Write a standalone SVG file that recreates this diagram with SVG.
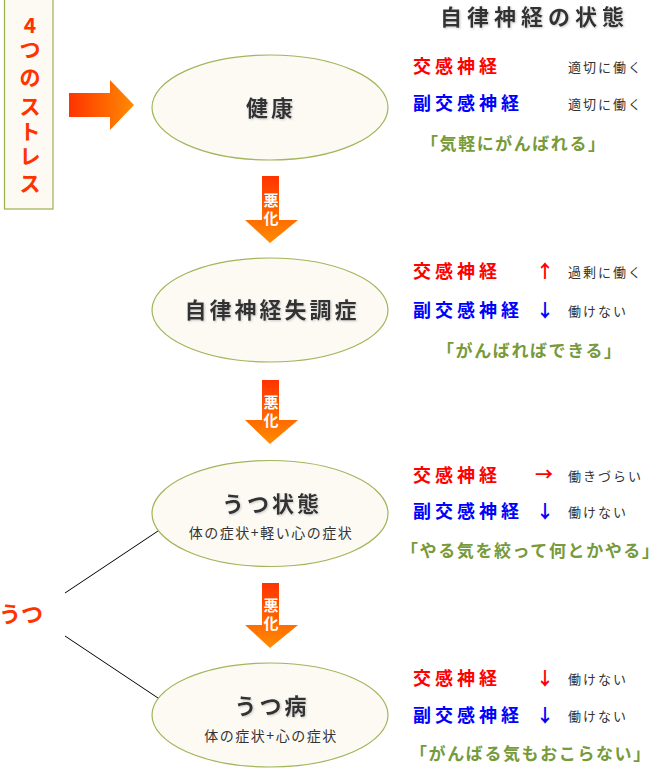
<svg xmlns="http://www.w3.org/2000/svg" width="650" height="770" viewBox="0 0 650 770">
<defs>
<linearGradient id="gh" x1="0" y1="0" x2="1" y2="0"><stop offset="0" stop-color="#ff3300"/><stop offset="1" stop-color="#ff8c00"/></linearGradient>
<linearGradient id="gv" x1="0" y1="0" x2="0" y2="1"><stop offset="0" stop-color="#ff3300"/><stop offset="1" stop-color="#ff8c00"/></linearGradient>
<filter id="sh" x="-20%" y="-30%" width="140%" height="160%"><feDropShadow dx="1" dy="1" stdDeviation="1.2" flood-color="#bbbbbb" flood-opacity="0.8"/></filter>
</defs>
<style>
text{font-family:"Noto Sans CJK JP","Noto Sans",sans-serif}
.node{fill:#fdfaf4;stroke:#a2b55a;stroke-width:1.2}
.ttl{font-size:22px;font-weight:bold;fill:#333333;text-anchor:middle;letter-spacing:3px}
.sub{font-size:14px;fill:#333333;text-anchor:middle;letter-spacing:1.5px}
.sym{font-size:18px;font-weight:bold;fill:#ff0000;letter-spacing:4px}
.para{font-size:18px;font-weight:bold;fill:#0000ff;letter-spacing:4px}
.st{font-size:13px;fill:#333333;letter-spacing:2px}
.q{font-size:17px;font-weight:bold;fill:#779a3a;letter-spacing:1.6px}
.ar{font-size:18px;font-weight:bold}
.worse{font-size:15px;font-weight:bold;fill:#ffffff;text-anchor:middle}
.red{fill:#ff3300;font-weight:bold}
</style>
<g id="stress">
<rect x="4.5" y="-1" width="48.5" height="210" fill="#fdfaf3" stroke="#9bb04c" stroke-width="1.2"/>
<g class="red" font-size="21" text-anchor="middle">
<text x="30" y="33">4</text>
<text x="30" y="57">つ</text>
<text x="30" y="85">の</text>
<text x="30" y="114">ス</text>
<text x="30" y="139">ト</text>
<text x="30" y="164">レ</text>
<text x="30" y="191">ス</text>
</g>
</g>
<g id="connectors">
<polygon points="69,93 110,93 110,80 134,105 110,130 110,117 69,117" fill="url(#gh)"/>
<g id="arrow1"><polygon points="262,176 279,176 279,220 298,220 270,243 245,220 262,220" fill="url(#gv)"/><text class="worse" x="271" y="206">悪</text><text class="worse" x="271" y="224">化</text></g>
<g id="arrow2"><polygon points="262,380 279,380 279,420 298,420 270,444 245,420 262,420" fill="url(#gv)"/><text class="worse" x="271" y="408">悪</text><text class="worse" x="271" y="426">化</text></g>
<g id="arrow3"><polygon points="262,583 279,583 279,625 298,625 270,648 245,625 262,625" fill="url(#gv)"/><text class="worse" x="271" y="611">悪</text><text class="worse" x="271" y="629">化</text></g>
<line x1="65" y1="593" x2="170" y2="523" stroke="#000" stroke-width="1"/>
<line x1="65" y1="636" x2="170" y2="706" stroke="#000" stroke-width="1"/>
</g>
<g id="n1"><ellipse class="node" cx="270" cy="107.5" rx="118" ry="52.5"/><text class="ttl" x="271" y="116" filter="url(#sh)">健康</text></g>
<g id="n2"><ellipse class="node" cx="270" cy="310" rx="118" ry="52"/><text class="ttl" x="272" y="318" filter="url(#sh)">自律神経失調症</text></g>
<g id="n3"><ellipse class="node" cx="270" cy="513.5" rx="118" ry="53"/><text class="ttl" x="272" y="512" filter="url(#sh)">うつ状態</text><text class="sub" x="271" y="538">体の症状+軽い心の症状</text></g>
<g id="n4"><ellipse class="node" cx="270" cy="715" rx="118" ry="52"/><text class="ttl" x="272" y="714" filter="url(#sh)">うつ病</text><text class="sub" x="271" y="741">体の症状+心の症状</text></g>
<g id="utsu"><text class="red" x="-1" y="622" font-size="22">うつ</text></g>
<g id="status">
<text x="440" y="25" font-size="22" font-weight="bold" fill="#333333" letter-spacing="5" filter="url(#sh)">自律神経の状態</text>
<text class="sym" x="413" y="73">交感神経</text><text class="st" x="568" y="72">適切に働く</text>
<text class="para" x="413" y="110">副交感神経</text><text class="st" x="568" y="109">適切に働く</text>
<text class="q" x="421" y="150">「気軽にがんばれる」</text>

<text class="sym" x="413" y="278">交感神経</text><text class="ar" x="536" y="278" fill="#ff0000">↑</text><text class="st" x="568" y="277">過剰に働く</text>
<text class="para" x="413" y="317">副交感神経</text><text class="ar" x="536" y="317" fill="#0000ff">↓</text><text class="st" x="568" y="316">働けない</text>
<text class="q" x="437" y="357" letter-spacing="1.8">「がんばればできる」</text>

<text class="sym" x="413" y="482">交感神経</text><text class="ar" x="535" y="481" fill="#ff0000">→</text><text class="st" x="568" y="481">働きづらい</text>
<text class="para" x="413" y="518">副交感神経</text><text class="ar" x="536" y="518" fill="#0000ff">↓</text><text class="st" x="568" y="517">働けない</text>
<text class="q" x="401" y="557" letter-spacing="1.7">「やる気を絞って何とかやる」</text>

<text class="sym" x="413" y="685">交感神経</text><text class="ar" x="536" y="685" fill="#ff0000">↓</text><text class="st" x="568" y="684">働けない</text>
<text class="para" x="413" y="722">副交感神経</text><text class="ar" x="536" y="722" fill="#0000ff">↓</text><text class="st" x="568" y="721">働けない</text>
<text class="q" x="410" y="760" letter-spacing="2.6">「がんばる気もおこらない」</text>
</g>
</svg>
